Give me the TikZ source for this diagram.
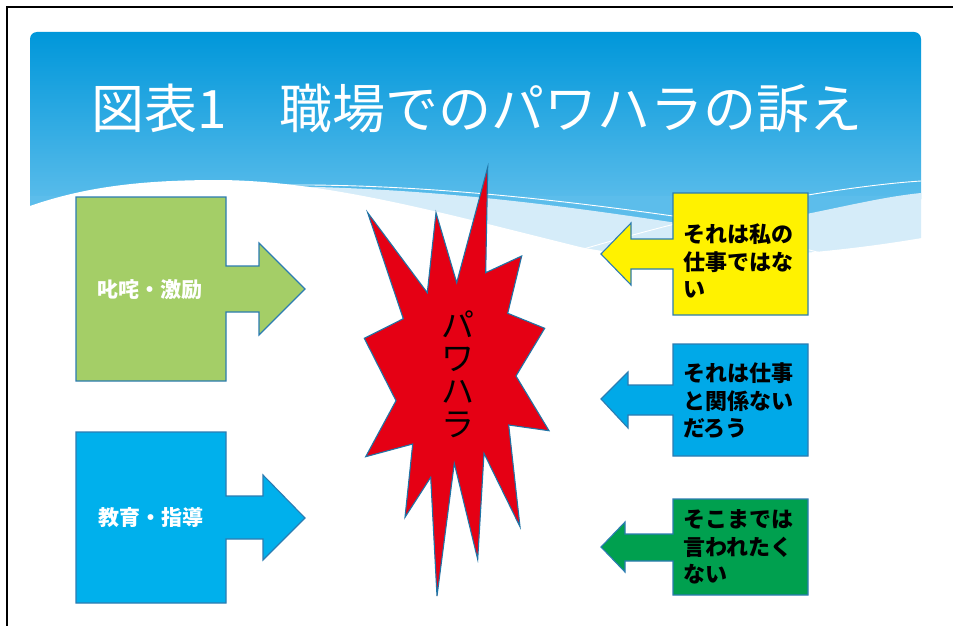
\documentclass[tikz,border=0pt]{standalone}
\usepackage{fontspec}
\newfontfamily\jp{Noto Sans CJK JP}
\definecolor{hdtop}{HTML}{0097DA}
\definecolor{hdmid}{HTML}{05A9E4}
\definecolor{hdbot}{HTML}{5CBDEB}
\definecolor{band}{HTML}{D5ECF9}
\definecolor{bord}{HTML}{2C7CB2}
\definecolor{lgreen}{HTML}{A4CE67}
\definecolor{lblue}{HTML}{00B0EC}
\definecolor{ryellow}{HTML}{FFF200}
\definecolor{rblue}{HTML}{00A9E8}
\definecolor{rgreen}{HTML}{00A04F}
\definecolor{starred}{HTML}{E50014}
\definecolor{starbord}{HTML}{1F74A6}
\begin{document}
\begin{tikzpicture}[x=1pt,y=-1pt,
  bx/.style={draw=bord, line width=1.1pt, line join=miter},
  ltxt/.style={font=\jp\bfseries\fontsize{21}{25}\selectfont, text=white, inner sep=0pt},
  rtxt/.style={font=\jp\bfseries\fontsize{22}{27.5}\selectfont, text=black, align=left, anchor=west, inner sep=0pt},
  ptxt/.style={font=\jp\fontsize{33}{33}\selectfont, inner sep=0pt},
  wline/.style={draw=white, line width=0.9pt}]
\useasboundingbox (0,0) rectangle (953,626);
\fill[white] (0,0) rectangle (953,626);
% header
\shade[top color=hdtop, middle color=hdmid, bottom color=hdbot, rounded corners=7pt] (30,32) rectangle (921,206);
\fill[hdbot] (30,196) rectangle (921,275);
% light band
\fill[band] (250,186) .. controls (420,186) and (560,205) .. (690,225) .. controls (760,232) and (850,200) .. (921,193) -- (921,280) -- (250,280) -- cycle;
% white lines
\draw[wline] (285,185) .. controls (420,184) and (560,200) .. (673,216) .. controls (740,228) and (800,250) .. (860,262);
\draw[wline] (560,256) .. controls (620,238) and (700,215) .. (808,195) .. controls (850,188) and (890,183) .. (921,181);
% white region
\fill[white] (30,206) .. controls (90,185) and (150,180) .. (220,180) .. controls (330,181) and (450,215) .. (580,247) .. controls (650,262) and (780,262) .. (922,238) -- (922,290) -- (29,290) -- cycle;
% frame
\draw[line width=2pt] (6.5,640) -- (6.5,7.5) -- (970,7.5);
% title
\node[font=\jp\fontsize{53}{60}\selectfont, text=white] (title) at (477,108) {図表1　職場でのパワハラの訴え};
% left callouts
\path[bx, fill=lgreen] (76,197) -- (226,197) -- (226,266) -- (259,266) -- (259,243) -- (305,289) -- (259,335) -- (259,312) -- (226,312) -- (226,381) -- (76,381) -- cycle;
\path[bx, fill=lblue] (76,432) -- (226,432) -- (226,496) -- (263,496) -- (263,475) -- (305,518) -- (263,560) -- (263,539) -- (226,539) -- (226,603) -- (76,603) -- cycle;
\node[ltxt] (t1) at (150,290) {叱咤・激励};
\node[ltxt] (t2) at (151,518) {教育・指導};
% right callouts
\path[bx, fill=ryellow] (808,193) -- (808,315) -- (673,315) -- (673,269) -- (631,269) -- (631,285) -- (601,254) -- (631,223) -- (631,239) -- (673,239) -- (673,193) -- cycle;
\path[bx, fill=rblue] (808,344) -- (808,456) -- (673,456) -- (673,415) -- (628,415) -- (628,428) -- (601,399) -- (628,372) -- (628,385) -- (673,385) -- (673,344) -- cycle;
\path[bx, fill=rgreen] (808,499) -- (808,595) -- (673,595) -- (673,561) -- (625,561) -- (625,572) -- (601,547) -- (625,522) -- (625,534) -- (673,534) -- (673,499) -- cycle;
\node[rtxt] (r1) at (683,261) {それは私の\\仕事ではな\\い};
\node[rtxt] (r2) at (683,401) {それは仕事\\と関係ない\\だろう};
\node[rtxt] (r3) at (683,547) {そこまでは\\言われたく\\ない};
% star
\path[draw=starbord, line width=1.1pt, fill=starred, line join=miter]
 (487.7,167.3) -- (485.7,272.7) -- (521.7,256) -- (507.7,313.3) -- (544.7,328.3)
 -- (516,376) -- (549,430.7) -- (508.7,425) -- (520,526.7) -- (484,453.3)
 -- (477.7,559.3) -- (454.3,463.3) -- (437,596) -- (430.7,477.3) -- (405,517.3)
 -- (412.7,444) -- (365.7,456.7) -- (396,400.7) -- (364.3,338.3) -- (403.3,318.7)
 -- (367.7,212.7) -- (427.3,292.7) -- (436,212.7) -- (456.7,282.7) -- cycle;
\node[ptxt, align=center] (pw) at (458,374) {パ\\ワ\\ハ\\ラ};
\end{tikzpicture}
\end{document}
